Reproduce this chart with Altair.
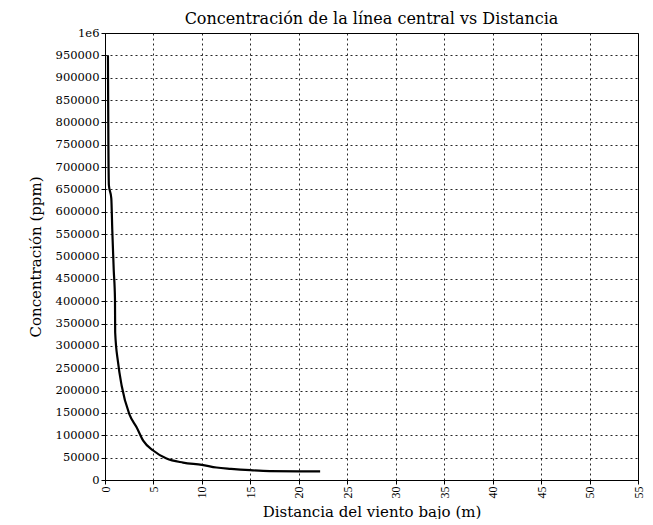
import altair as alt
import pandas as pd

distance = [0.3, 0.35, 0.4, 0.65, 0.75, 0.9, 1.03, 1.05, 1.34, 1.72, 2.5, 3.26, 3.94,
            4.97, 6.35, 8.06, 10.0, 11.5, 13.0, 15.0, 17.0, 20.0, 22.2]
concentration = [950000, 750000, 660000, 630000, 560000, 470000, 405000, 330000, 264000,
                 211000, 148000, 118000, 88000, 66000, 48000, 39000, 34000, 28000, 25000,
                 22000, 20000, 19500, 19500]
x_ticks = list(range(0, 56, 5))
y_ticks = list(range(0, 1000001, 50000))

df = pd.DataFrame({"d": distance, "c": concentration})

W, H = 533, 447
serif = "DejaVu Serif"

line = alt.Chart(df).mark_line(color="black", strokeWidth=2.2, interpolate="monotone").encode(
    x=alt.X("d:Q", title="Distancia del viento bajo (m)",
            scale=alt.Scale(domain=[0, 55], nice=False, zero=True),
            axis=alt.Axis(values=x_ticks, labelAngle=270, labelAlign="right", labelBaseline="middle",
                          labelPadding=2, tickSize=4, titlePadding=6, labelFont="Liberation Serif",
                          labelFontSize=12,
                          grid=True, gridColor="black", gridDash=[2, 3], gridOpacity=0.85)),
    y=alt.Y("c:Q", title="Concentración (ppm)",
            scale=alt.Scale(domain=[0, 1000000], nice=False),
            axis=alt.Axis(values=y_ticks, tickSize=4, labelPadding=2, titlePadding=12,
                          labelFont=serif, labelFontSize=11.5,
                          labelExpr="datum.value == 1000000 ? '1e6' : format(datum.value, 'd')",
                          grid=True, gridColor="black", gridDash=[2, 3], gridOpacity=0.85)),
)

chart = line.properties(
    width=W, height=H,
    padding={"left": 20, "top": 3, "right": 0, "bottom": 0},
    title=alt.TitleParams("Concentración de la línea central vs Distancia", anchor="middle",
                          frame="group", font=serif, fontSize=16, fontWeight="normal",
                          color="black", offset=0),
).configure_axis(
    domainColor="black", tickColor="black", labelColor="black", titleColor="black",
    titleFont=serif, titleFontSize=15, titleFontWeight="normal",
).configure_view(stroke="black", strokeWidth=1)

chart.save("out.html", embed_options={"renderer": "svg", "actions": False})
